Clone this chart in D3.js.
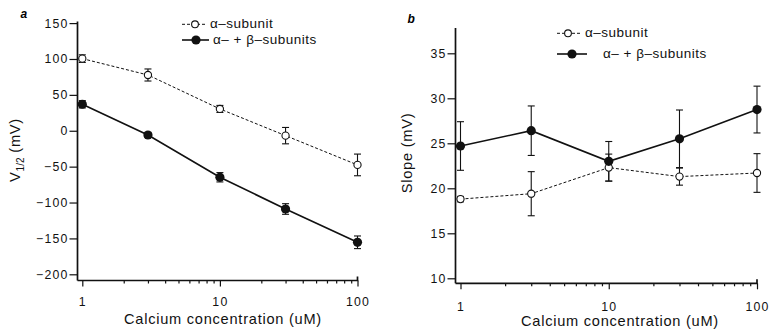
<!DOCTYPE html>
<html>
<head>
<meta charset="utf-8">
<script src="https://d3js.org/d3.v7.min.js"></script>
<style>
	body { margin: 0; background: #fff; }
	svg { font-family: "Liberation Sans", Arial, Helvetica, sans-serif; }
	.tick text { font-size: 12.3px; letter-spacing: 1.2px; fill: #111; }
	.tick line { stroke: #111; stroke-width: 1.2px; }
	.axis-line { stroke: #111; stroke-width: 1.7px; fill: none; }
	.solid { fill: none; stroke: #111; stroke-width: 1.6px; }
	.dashed { fill: none; stroke: #111; stroke-width: 1px; stroke-dasharray: 3,2; }
	.err { stroke: #111; stroke-width: 1.1px; }
	.title { font-size: 14.6px; letter-spacing: 0.75px; fill: #111; }
	.legend { font-size: 13.5px; letter-spacing: 0.5px; fill: #111; }
</style>
</head>
<body>
<svg id="chart" width="771" height="329"></svg>
<script>
	// calcium concentrations (uM)
	var conc = [1, 3, 10, 30, 100];
	var xTicks = [1, 10, 100];
	var xMinor = [2, 3, 4, 5, 6, 7, 8, 9, 20, 30, 40, 50, 60, 70, 80, 90];

	// panel a: V1/2 (mV)
	var v12Ticks = [150, 100, 50, 0, -50, -100, -150, -200];
	var v12Alpha = [100.5, 77.7, 30.4, -6.8, -47.6];
	var v12AlphaErr = [5.3, 8.4, 4.9, 11.4, 15.1];
	var v12AlphaBeta = [36.9, -5.9, -64.8, -109, -155.4];
	var v12AlphaBetaErr = [5.1, 3.5, 6.5, 7.4, 8.8];

	// panel b: slope (mV)
	var slopeTicks = [35, 30, 25, 20, 15, 10];
	var slopeAlpha = [18.8, 19.4, 22.3, 21.3, 21.7];
	var slopeAlphaErr = [0.3, 2.45, 1.5, 0.95, 2.15];
	var slopeAlphaBeta = [24.7, 26.4, 23.0, 25.5, 28.75];
	var slopeAlphaBetaErr = [2.7, 2.75, 2.2, 3.2, 2.6];

	var legendLabels = ["\u03b1\u2013subunit", "\u03b1\u2013 + \u03b2\u2013subunits"];

	var svg = d3.select("#chart");

	function panel(p) {
		var x = d3.scaleLog().domain([1, 100]).range(p.xRange);
		var y = d3.scaleLinear().domain(p.yDomain).range(p.yRange);
		var g = svg.append("g");

		// y axis
		var yAxis = g.append("g")
				.attr("transform", "translate(" + p.axisX + ",0)")
				.call(d3.axisLeft(y).tickValues(p.yTicks).tickSize(8).tickPadding(1));
		yAxis.select(".domain").remove();
		g.append("line").attr("class", "axis-line")
				.attr("x1", p.axisX).attr("x2", p.axisX)
				.attr("y1", p.axisTop).attr("y2", p.axisY);

		// x axis
		var xAxis = g.append("g")
				.attr("transform", "translate(0," + p.axisY + ")")
				.call(d3.axisBottom(x).tickValues(xTicks).tickFormat(d3.format("d")).tickSize(6).tickPadding(p.xPad));
		xAxis.select(".domain").remove();
		var xMinorAxis = g.append("g")
				.attr("transform", "translate(0," + p.axisY + ")")
				.call(d3.axisBottom(x).tickValues(xMinor).tickFormat("").tickSize(3));
		xMinorAxis.select(".domain").remove();
		g.append("path").attr("class", "axis-line")
				.attr("d", "M" + p.axisX + "," + p.axisY + "H" + x(100) + "V" + (p.axisY - 4));

		// series
		var line = d3.line()
				.x(function(d, i) { return x(conc[i]); })
				.y(function(d) { return y(d); });

		g.append("path").datum(p.alpha).attr("class", "dashed").attr("d", line);
		g.append("path").datum(p.alphaBeta).attr("class", "solid").attr("d", line);

		function errors(vals, errs) {
			var e = g.append("g").selectAll("g").data(vals).enter().append("g");
			e.append("line").attr("class", "err")
					.attr("x1", function(d, i) { return x(conc[i]); })
					.attr("x2", function(d, i) { return x(conc[i]); })
					.attr("y1", function(d, i) { return y(d + errs[i]); })
					.attr("y2", function(d, i) { return y(d - errs[i]); });
			[1, -1].forEach(function(s) {
				e.append("line").attr("class", "err")
						.attr("x1", function(d, i) { return x(conc[i]) - 3.5; })
						.attr("x2", function(d, i) { return x(conc[i]) + 3.5; })
						.attr("y1", function(d, i) { return y(d + s * errs[i]); })
						.attr("y2", function(d, i) { return y(d + s * errs[i]); });
			});
		}
		errors(p.alpha, p.alphaErr);
		errors(p.alphaBeta, p.alphaBetaErr);

		g.append("g").selectAll("circle").data(p.alpha).enter().append("circle")
				.attr("cx", function(d, i) { return x(conc[i]); })
				.attr("cy", function(d) { return y(d); })
				.attr("r", 3.6)
				.attr("fill", "#fff").attr("stroke", "#111").attr("stroke-width", 1.1);
		g.append("g").selectAll("circle").data(p.alphaBeta).enter().append("circle")
				.attr("cx", function(d, i) { return x(conc[i]); })
				.attr("cy", function(d) { return y(d); })
				.attr("r", 4.6)
				.attr("fill", "#111");

		// axis titles
		g.append("text").attr("class", "title")
				.attr("x", p.xTitle[0]).attr("y", p.xTitle[1])
				.attr("text-anchor", "middle")
				.text("Calcium concentration (uM)");
		var yt = g.append("text").attr("class", "title")
				.attr("transform", "translate(" + p.yTitle[0] + "," + p.yTitle[1] + ") rotate(-90)")
				.attr("text-anchor", "middle");
		p.yLabel(yt);

		// panel letter
		g.append("text")
				.attr("x", p.letter[0]).attr("y", p.letter[1])
				.attr("font-size", 12).attr("font-weight", "bold").attr("font-style", "italic")
				.text(p.letterText);

		// legend
		var L = p.legend;
		g.append("line").attr("class", "dashed")
				.attr("x1", L.x0).attr("x2", L.x1).attr("y1", L.y0).attr("y2", L.y0);
		g.append("circle").attr("cx", L.c0).attr("cy", L.y0).attr("r", 3.4)
				.attr("fill", "#fff").attr("stroke", "#111").attr("stroke-width", 1.1);
		g.append("text").attr("class", "legend").attr("x", L.t0).attr("y", L.y0 + 4).text(legendLabels[0]);
		g.append("line").attr("class", "solid")
				.attr("x1", L.x0).attr("x2", L.x2).attr("y1", L.y1).attr("y2", L.y1);
		g.append("circle").attr("cx", L.c1).attr("cy", L.y1).attr("r", 4.6).attr("fill", "#111");
		g.append("text").attr("class", "legend").attr("x", L.t1).attr("y", L.y1 + 4).text(legendLabels[1]);
	}

	panel({
		xRange: [82.3, 357.5], yDomain: [-200, 150], yRange: [274.3, 23.1],
		yTicks: v12Ticks, axisX: 77.5, axisTop: 21.5, axisY: 280.5, xPad: 11,
		alpha: v12Alpha, alphaErr: v12AlphaErr, alphaBeta: v12AlphaBeta, alphaBetaErr: v12AlphaBetaErr,
		xTitle: [223, 324], yTitle: [20, 150],
		yLabel: function(t) {
			t.append("tspan").text("V");
			t.append("tspan").attr("font-size", 10).attr("dy", 4).attr("letter-spacing", 0).text("1/2");
			t.append("tspan").attr("dy", -4).text(" (mV)");
		},
		letter: [20.5, 17.5], letterText: "a",
		legend: { x0: 182, x1: 207, x2: 209, c0: 195, c1: 196, y0: 24.3, y1: 40, t0: 210, t1: 213 }
	});

	panel({
		xRange: [460.5, 757], yDomain: [10, 35], yRange: [278.3, 53.3],
		yTicks: slopeTicks, axisX: 455.5, axisTop: 28, axisY: 283.3, xPad: 12.5,
		alpha: slopeAlpha, alphaErr: slopeAlphaErr, alphaBeta: slopeAlphaBeta, alphaBetaErr: slopeAlphaBetaErr,
		xTitle: [620, 325.8], yTitle: [412, 153],
		yLabel: function(t) { t.text("Slope (mV)"); },
		letter: [407.5, 22.5], letterText: "b",
		legend: { x0: 557, x1: 580, x2: 587, c0: 568, c1: 572, y0: 33.3, y1: 54, t0: 585, t1: 603 }
	});
</script>
</body>
</html>
